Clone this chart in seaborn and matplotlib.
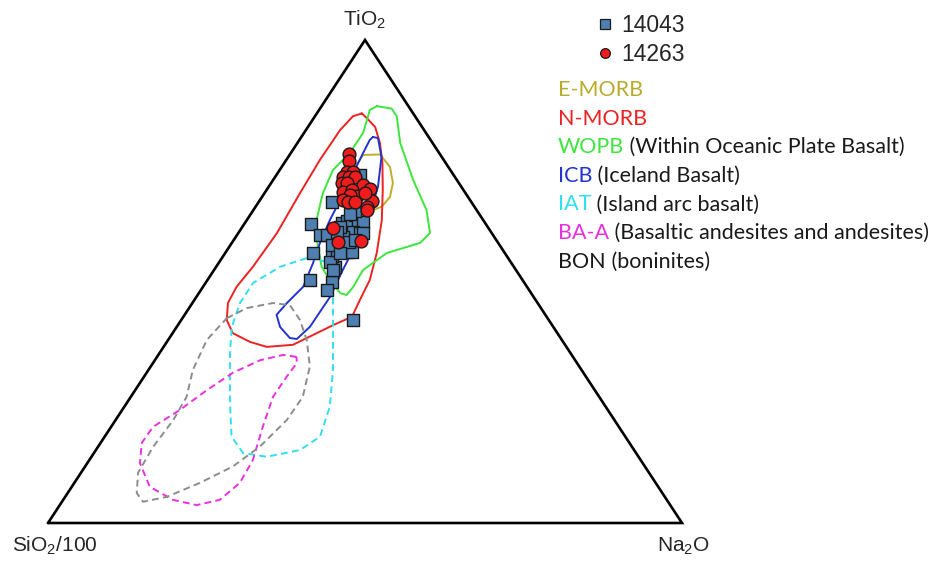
import matplotlib
matplotlib.use("Agg")
import matplotlib.pyplot as plt
from matplotlib.lines import Line2D
import numpy as np
import pandas as pd
import seaborn as sns

sns.set_theme(style="white")
plt.rcParams["font.family"] = ["Liberation Sans", "DejaVu Sans"]
plt.rcParams["mathtext.fontset"] = "custom"
plt.rcParams["mathtext.rm"] = "Liberation Sans"
plt.rcParams["mathtext.it"] = "Liberation Sans"

# ---- sample analyses, (TiO2, SiO2/100, Na2O) in normalised percent ----
s14043_ti = [66.5, 72.0, 61.9, 59.6, 55.9, 50.3, 50.0, 48.2, 42.0, 53.0, 55.3, 54.0,
             56.5, 56.1, 56.2, 62.1, 62.5, 63.8, 62.1, 62.3, 60.2, 60.0, 59.6, 59.2,
             58.2, 57.6, 55.9, 64.6, 61.3, 60.0, 60.2, 64.0, 52.4, 58.6]
s14043_si = [22.0, 14.8, 27.5, 27.3, 30.2, 33.5, 30.3, 31.9, 30.8, 28.2, 27.6, 28.5,
             26.2, 24.8, 24.0, 22.6, 21.6, 19.7, 20.0, 19.1, 21.7, 20.8, 26.2, 23.8,
             23.5, 26.5, 26.0, 19.3, 23.3, 20.3, 24.3, 20.4, 28.8, 22.3]
s14043_na = [11.5, 13.2, 10.6, 13.1, 13.9, 16.2, 19.8, 19.8, 27.1, 18.8, 17.1, 17.5,
             17.3, 19.1, 19.8, 15.3, 15.9, 16.5, 17.9, 18.6, 18.0, 19.2, 14.1, 17.0,
             18.3, 16.0, 18.1, 16.1, 15.4, 19.7, 15.4, 15.6, 18.8, 19.1]

s14263_ti = [76.4, 75.0, 72.7, 72.7, 71.7, 71.6, 71.6, 70.3, 70.3, 70.0, 69.1, 68.6,
             68.9, 67.6, 67.9, 66.9, 66.5, 66.7, 65.5, 66.5, 61.0, 58.2, 58.3, 64.8, 68.3]
s14263_si = [14.4, 15.0, 16.5, 15.5, 17.6, 16.7, 15.8, 18.5, 17.7, 15.3, 14.7, 19.1,
             17.6, 17.5, 18.4, 20.0, 19.4, 15.6, 17.0, 18.3, 24.6, 25.1, 21.5, 17.3, 15.8]
s14263_na = [9.2, 10.0, 10.8, 11.8, 10.7, 11.7, 12.6, 11.2, 12.0, 14.7, 16.2, 12.3,
             13.4, 14.9, 13.7, 13.1, 14.1, 17.7, 17.5, 15.2, 14.4, 16.7, 20.2, 17.9, 15.8]

# ---- discrimination fields (TiO2, SiO2/100, Na2O) ----
emorb_ti = [74.1, 76.2, 76.3, 73.8, 70.4, 67.6, 65.5, 64.8, 66.3]
emorb_si = [14.3, 12.2, 9.5, 9.2, 10.4, 12.3, 14.6, 16.3, 16.6]
emorb_na = [11.6, 11.6, 14.2, 17.1, 19.2, 20.2, 19.9, 18.9, 17.1]

nmorb_ti = [84.8, 83.8, 82.0, 78.7, 74.5, 68.9, 62.7, 55.9, 50.3, 46.2, 42.7, 41.0, 36.9,
            36.5, 37.5, 39.3, 42.0, 45.5, 48.9, 53.1, 60.0, 68.3, 75.2, 81.4, 84.3]
nmorb_si = [8.1, 7.8, 7.4, 8.3, 10.0, 12.7, 16.0, 20.2, 24.1, 27.7, 30.7, 34.6, 42.9,
            47.3, 49.4, 51.2, 50.8, 48.8, 45.8, 41.1, 33.9, 26.1, 19.5, 13.3, 9.8]
nmorb_na = [7.1, 8.4, 10.6, 13.0, 15.5, 18.3, 21.3, 23.9, 25.6, 26.1, 26.6, 24.5, 20.2,
            16.3, 13.1, 9.5, 7.2, 5.6, 5.3, 5.8, 6.1, 5.6, 5.3, 5.4, 6.0]

wopb_ti = [86.3, 85.9, 84.1, 78.7, 71.0, 64.8, 60.0, 58.0, 55.9, 52.4, 48.9, 47.2, 47.6,
           50.3, 53.1, 58.6, 62.7, 68.3, 73.1, 76.6, 80.7, 83.4, 85.5]
wopb_si = [5.0, 2.9, 2.9, 5.1, 6.9, 7.9, 9.7, 12.3, 18.6, 24.1, 27.4, 29.3, 30.1,
           30.4, 30.3, 28.3, 26.3, 22.5, 18.5, 14.1, 9.9, 8.0, 6.5]
wopb_na = [8.7, 11.3, 12.9, 16.2, 22.1, 27.3, 30.2, 29.7, 25.5, 23.5, 23.7, 23.5, 22.3,
           19.3, 16.6, 13.1, 11.0, 9.2, 8.4, 9.3, 9.3, 8.6, 8.0]

icb_ti = [80.0, 79.7, 75.8, 69.6, 64.2, 58.0, 52.4, 46.9, 40.6, 38.1, 38.3, 40.6, 43.1,
          45.5, 48.9, 53.8, 58.0, 62.7, 65.5, 71.0, 76.6, 79.3]
icb_si = [8.8, 8.1, 9.5, 13.1, 17.1, 22.3, 27.3, 32.1, 38.4, 41.7, 42.7, 43.1, 42.4,
          39.6, 35.3, 31.3, 28.1, 24.2, 21.7, 16.9, 12.0, 9.6]
icb_na = [11.3, 12.2, 14.7, 17.2, 18.7, 19.7, 20.3, 21.1, 21.0, 20.2, 19.0, 16.3, 14.5,
          14.9, 15.8, 14.9, 13.9, 13.1, 12.8, 12.1, 11.4, 11.1]

iat_ti = [54.9, 53.1, 49.7, 45.5, 40.6, 35.2, 24.8, 17.9, 14.5, 13.7, 15.1, 17.9, 24.1,
          31.7, 38.6, 46.9, 54.0]
iat_si = [31.8, 36.9, 42.8, 46.9, 50.7, 53.7, 58.9, 62.1, 62.0, 58.6, 52.7, 48.2, 43.5,
          39.2, 35.8, 31.6, 28.8]
iat_na = [13.4, 10.1, 7.5, 7.5, 8.7, 11.1, 16.3, 20.0, 23.5, 27.6, 32.2, 34.0, 32.4,
          29.1, 25.7, 21.5, 17.1]

baa_ti = [34.4, 34.8, 33.7, 31.1, 27.5, 23.4, 19.9, 16.6, 12.4, 7.5, 4.8, 3.7, 4.8, 8.3,
          13.0, 19.9, 26.1, 30.3, 33.1]
baa_si = [43.6, 45.5, 49.7, 55.3, 61.2, 67.5, 73.5, 76.9, 79.3, 80.2, 77.9, 74.7, 70.5,
          65.6, 61.2, 56.1, 51.4, 47.2, 44.2]
baa_na = [22.0, 19.7, 16.6, 13.6, 11.3, 9.1, 6.6, 6.5, 8.3, 12.3, 17.3, 21.6, 24.7, 26.1,
          25.8, 23.9, 22.4, 22.5, 22.7]

bon_ti = [42.4, 44.5, 45.5, 45.1, 42.0, 37.9, 32.4, 26.1, 21.3, 15.8, 11.7, 8.3, 5.4,
          4.4, 6.2, 10.4, 15.8, 21.3, 26.1, 31.7, 37.9]
bon_si = [50.6, 46.4, 41.7, 39.3, 39.2, 40.3, 42.5, 46.7, 51.7, 58.7, 65.0, 71.9, 78.6,
          82.8, 82.9, 80.6, 75.5, 69.6, 65.1, 61.3, 56.0]
bon_na = [7.0, 9.1, 12.7, 15.6, 18.7, 21.9, 25.1, 27.1, 27.0, 25.5, 23.3, 19.8, 16.0,
          12.8, 10.9, 9.0, 8.7, 9.1, 8.8, 7.0, 6.1]

sample_names = ["14043", "14263"]
sample_colors = {"14043": "#4f7fb0", "14263": "#ee1c1c"}
sample_markers = {"14043": "s", "14263": "o"}


def ternary_xy(ti, si, na):
    """Project (TiO2, SiO2/100, Na2O) onto a unit triangle: TiO2 apex on top,
    SiO2/100 lower-left, Na2O lower-right."""
    ti, si, na = (np.asarray(v, dtype=float) for v in (ti, si, na))
    total = ti + si + na
    t, n = ti / total, na / total
    return n + t / 2.0, t


W, H = 944, 563
fig = plt.figure(figsize=(W / 100, H / 100), dpi=100)
fig.patch.set_facecolor("white")
ax = fig.add_axes([48 / W, 40 / H, 634 / W, 483 / H])
ax.set_xlim(0, 1)
ax.set_ylim(0, 1)
ax.axis("off")

# triangle frame
tx, ty = ternary_xy([0, 100, 0, 0], [100, 0, 0, 100], [0, 0, 100, 0])
ax.plot(tx, ty, color="black", lw=1.9, clip_on=False, solid_joinstyle="miter", zorder=5)

# fields
fields = [
    ("E-MORB", emorb_ti, emorb_si, emorb_na, "#c2ad2a", "-", False),
    ("N-MORB", nmorb_ti, nmorb_si, nmorb_na, "#ec2222", "-", True),
    ("WOPB", wopb_ti, wopb_si, wopb_na, "#3de63d", "-", True),
    ("ICB", icb_ti, icb_si, icb_na, "#2233d0", "-", True),
    ("IAT", iat_ti, iat_si, iat_na, "#30dff0", "--", True),
    ("BA-A", baa_ti, baa_si, baa_na, "#ea2fe0", "--", True),
    ("BON", bon_ti, bon_si, bon_na, "#8c8c8c", "--", True),
]
for name, fti, fsi, fna, col, ls, closed in fields:
    fx, fy = ternary_xy(fti, fsi, fna)
    if closed:
        fx, fy = np.append(fx, fx[0]), np.append(fy, fy[0])
    kw = dict(dashes=(3.5, 2.2)) if ls == "--" else {}
    ax.plot(fx, fy, color=col, lw=1.4, zorder=2, **kw)

# samples
frames = []
for name, sti, ssi, sna in [("14043", s14043_ti, s14043_si, s14043_na),
                            ("14263", s14263_ti, s14263_si, s14263_na)]:
    sx, sy = ternary_xy(sti, ssi, sna)
    frames.append(pd.DataFrame({"x": sx, "y": sy, "sample": name}))
df = pd.concat(frames, ignore_index=True)

for name in sample_names:
    sns.scatterplot(data=df[df["sample"] == name], x="x", y="y",
                    marker=sample_markers[name], color=sample_colors[name],
                    edgecolor="#1a1a1a", linewidth=1.0, s=85, ax=ax, legend=False,
                    zorder=3 if name == "14043" else 4)
ax.set_xlabel("")
ax.set_ylabel("")

# apex labels
fig.text(365 / W, 1 - 26 / H, r"TiO$_2$", ha="center", va="baseline", fontsize=15)
fig.text(12 / W, 1 - 546 / H, r"SiO$_2$/100", ha="left", va="center", fontsize=15)
fig.text(657 / W, 1 - 546 / H, r"Na$_2$O", ha="left", va="center", fontsize=15)

# sample legend
handles = [Line2D([], [], ls="none", marker=sample_markers[n], markersize=7,
                  markerfacecolor=sample_colors[n], markeredgecolor="#1a1a1a",
                  markeredgewidth=0.9) for n in sample_names]
ax.legend(handles, sample_names, loc="upper left", bbox_to_anchor=(582 / W, 1 - 3 / H),
          bbox_transform=fig.transFigure, frameon=False, fontsize=16.5,
          handlelength=1.0, handletextpad=0.2, labelspacing=0.25, borderpad=0)

# field key
key_font = ["Lato", "DejaVu Sans"]
key_rows = [
    ("E-MORB", "#b9ab2c", ""),
    ("N-MORB", "#ec2222", ""),
    ("WOPB", "#3de63d", " (Within Oceanic Plate Basalt)"),
    ("ICB", "#2233d0", " (Iceland Basalt)"),
    ("IAT", "#30dff0", " (Island arc basalt)"),
    ("BA-A", "#ea2fe0", " (Basaltic andesites and andesites)"),
    ("BON", "#1a1a1a", " (boninites)"),
]
y0, dy = 90, 28.6
for i, (abbr, col, desc) in enumerate(key_rows):
    t = fig.text(558 / W, 1 - (y0 + i * dy) / H, abbr, color=col, fontsize=15.5,
                 family=key_font, ha="left", va="center")
    if desc:
        ax.annotate(desc, xy=(1, 0.5), xycoords=t, ha="left", va="center",
                    fontsize=15.5, family=key_font, color="#1a1a1a")

fig.savefig("out.png", dpi=100, facecolor="white")
